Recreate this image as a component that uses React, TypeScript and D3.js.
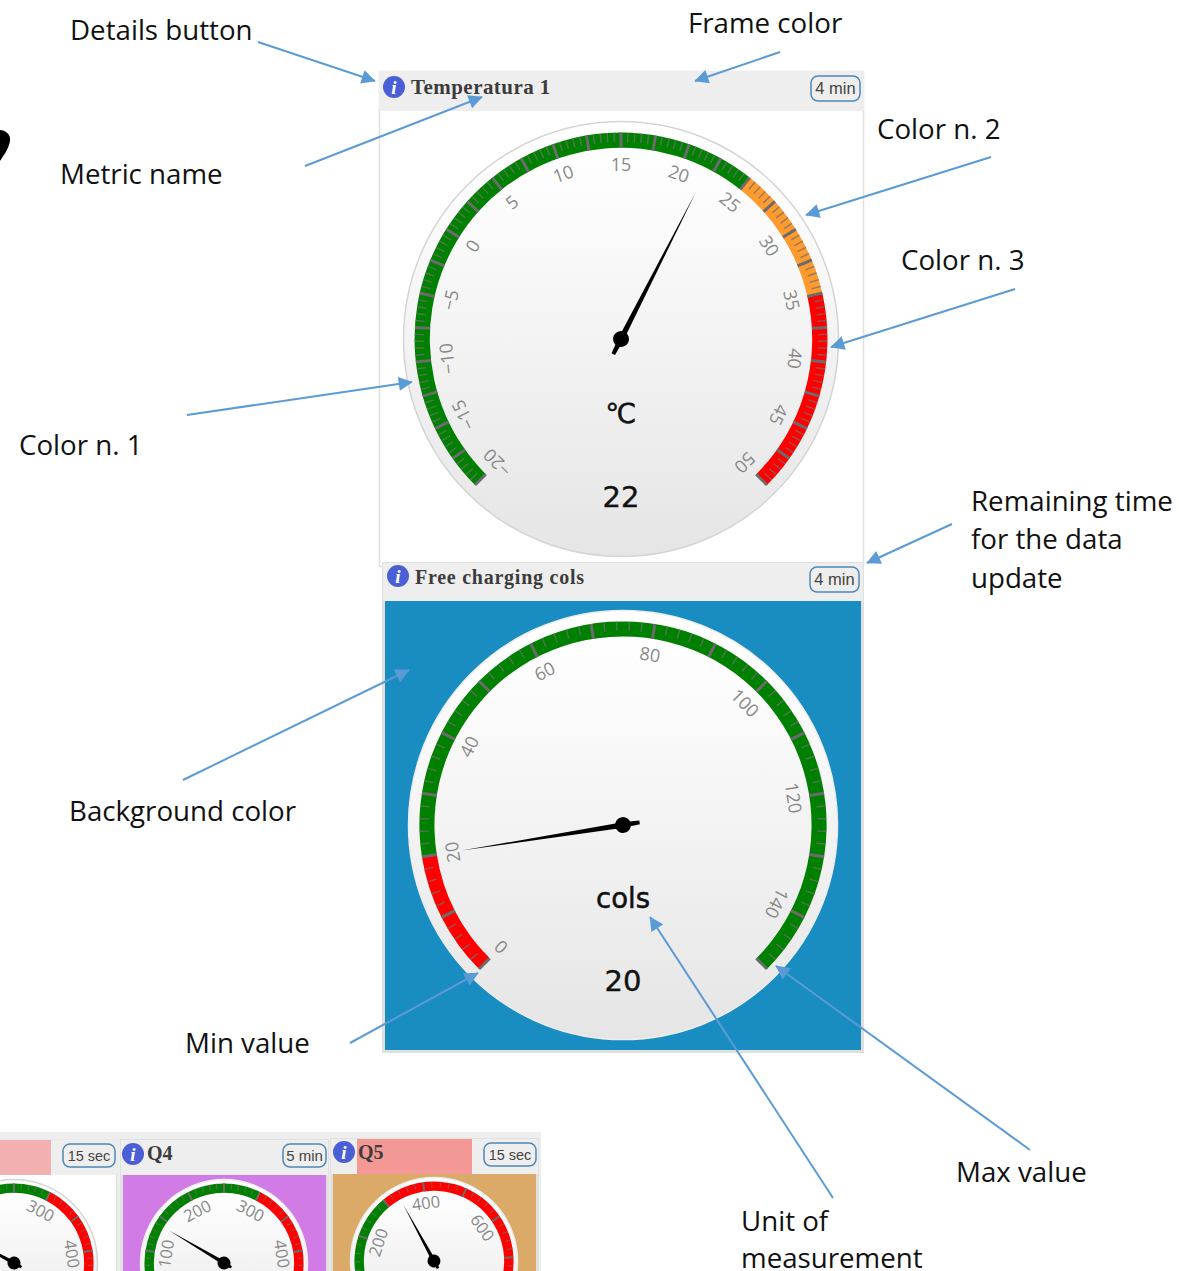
import React from "react";
import * as d3 from "d3";

const W = 1179, H = 1271;
const GREEN = "#008000", ORANGE = "#ff9a2e", RED = "#ff0000";

const gauge1Labels = [-20,-15,-10,-5,0,5,10,15,20,25,30,35,40,45,50];
const gauge1Bands = [{from:-20,to:25,color:GREEN},{from:25,to:35,color:ORANGE},{from:35,to:50,color:RED}];
const gauge2Labels = [0,20,40,60,80,100,120,140];
const gauge2Bands = [{from:0,to:20,color:RED},{from:20,to:150,color:GREEN}];
const q3Labels = [300,400];
const q4Labels = [100,200,300,400];
const q34Bands = [{from:0,to:300,color:GREEN},{from:300,to:500,color:RED}];
const q5Labels = [200,400,600];
const q5Bands = [{from:0,to:300,color:GREEN},{from:300,to:850,color:RED}];

const gauges = [
  {cx:621,cy:339,r:218,min:-20,max:50,value:22,major:2.5,labels:gauge1Labels,bands:gauge1Bands,unit:"℃",show:"22",id:"a",fs:18,edge:"#d4d4d4"},
  {cx:623,cy:825,r:215,min:0,max:150,value:20,major:10,labels:gauge2Labels,bands:gauge2Bands,unit:"cols",show:"20",id:"b",fs:18,edge:"#ededed"},
  {cx:14,cy:1263,r:84,min:0,max:500,value:137,major:50,labels:q3Labels,bands:q34Bands,unit:"",show:"",id:"c",fs:16.5,edge:"#d4d4d4"},
  {cx:224,cy:1263,r:84,min:0,max:500,value:140,major:50,labels:q4Labels,bands:q34Bands,unit:"",show:"",id:"d",fs:16.5,edge:"#ededed"},
  {cx:434,cy:1261,r:84,min:0,max:850,value:335,major:100,labels:q5Labels,bands:q5Bands,unit:"",show:"",id:"e",fs:16.5,edge:"#ededed"},
];

const panels = [
  {x:379,y:71,w:485,h:496,hh:40,body:"#ffffff",title:"Temperatura 1",badge:"4 min",fs:21,bw:49,bx:811,by:76,bh:25,bf:16.5,ix:394,iy:87,tx:411,ty:94,ls:0.45},
  {x:383,y:563,w:480,h:489,hh:38,body:"#198cc2",title:"Free charging cols",badge:"4 min",fs:20,bw:49,bx:810,by:567,bh:25,bf:16.5,ix:398,iy:576,tx:415,ty:584,ls:0.75},
  {x:-90,y:1140,w:207,h:140,hh:35,body:"#ffffff",title:"",badge:"15 sec",fs:21,bw:52,bx:63,by:1144,bh:23,bf:14.5,ix:0,iy:0,tx:0,ty:0,ls:0},
  {x:121,y:1140,w:207,h:140,hh:35,body:"#d17ce6",title:"Q4",badge:"5 min",fs:20,bw:43,bx:283,by:1144,bh:23,bf:15,ix:133,iy:1154,tx:147,ty:1160,ls:0},
  {x:331,y:1139,w:207,h:140,hh:35,body:"#dba968",title:"Q5",badge:"15 sec",fs:20,bw:52,bx:484,by:1143,bh:23,bf:14.5,ix:344,iy:1152,tx:358,ty:1159,ls:0},
];

const labels = [
  {t:"Details button",x:70,y:40},{t:"Frame color",x:688,y:33},{t:"Metric name",x:60,y:184},
  {t:"Color n. 2",x:877,y:139},{t:"Color n. 3",x:901,y:270},{t:"Color n. 1",x:19,y:455},
  {t:"Remaining time",x:971,y:511},{t:"for the data",x:971,y:549},{t:"update",x:971,y:588},
  {t:"Background color",x:69,y:821},{t:"Min value",x:185,y:1053},{t:"Max value",x:956,y:1182},
  {t:"Unit of",x:741,y:1231},{t:"measurement",x:741,y:1268},
];
const arrows = [
  [258,42,375,81],[780,52,695,81],[305,166,482,97],[991,157,806,215],[1015,289,831,347],
  [187,415,412,382],[952,524,867,563],[183,780,409,670],[350,1043,478,973],[833,1198,650,917],[1030,1150,776,966],
];

function Gauge({g}:{g:any}) {
  const k = g.r/218;
  const small = g.r<100;
  const angle = d3.scaleLinear().domain([g.min,g.max]).range([-135,135]);
  const rOut = g.r*0.947, rIn = g.r*(small?0.835:0.877), rLab = g.r*(small?0.68:0.795);
  const arc = d3.arc();
  const rad = (d:number)=>d*Math.PI/180;
  const majors = d3.range(g.min,g.max+g.major/2,g.major);
  const minors:number[] = [];
  majors.slice(0,-1).forEach((m:number)=>{for(let i=1;i<5;i++)minors.push(m+g.major*i/5)});
  const a = angle(g.value);
  const nLen = g.r*0.76, tail = 17*Math.max(k,0.5), base = small?1.9:2.8;
  return (
    <g transform={`translate(${g.cx},${g.cy})`}>
      <circle r={g.r-0.5} fill={`url(#face${g.id})`} stroke={g.edge} strokeWidth={1.5}/>
      {g.bands.map((b:any,i:number)=>(
        <path key={i} fill={b.color} d={arc({innerRadius:rIn,outerRadius:rOut,startAngle:rad(angle(b.from)),endAngle:rad(angle(b.to))}) as string}/>
      ))}
      {minors.map((m,i)=>(
        <line key={i} transform={`rotate(${angle(m)})`} y1={-rOut} y2={-rOut+(rOut-rIn)*0.62} stroke="#6f6f6f" strokeOpacity={0.75} strokeWidth={small?1:1.4}/>
      ))}
      {majors.map((m:number,i:number)=>(
        <line key={i} transform={`rotate(${angle(m)})`} y1={-rOut} y2={-rIn} stroke="#6b6b6b" strokeWidth={small?2:3}/>
      ))}
      {g.labels.map((l:number)=>(
        <text key={l} transform={`rotate(${angle(l)}) translate(0,${-rLab})`} textAnchor="middle" dominantBaseline="middle"
          fontFamily="'Open Sans',sans-serif" fontSize={g.fs} fill="#888888">{String(l).replace("-","−")}</text>
      ))}
      {g.unit && <text y={g.r*0.385} textAnchor="middle" fontFamily="'DejaVu Sans',sans-serif" fontSize={27.5} fill="#111" stroke="#111" strokeWidth={0.5}>{g.unit}</text>}
      {g.show && <text y={g.r*0.77} textAnchor="middle" fontFamily="'DejaVu Sans',sans-serif" fontSize={29} fill="#111" stroke="#111" strokeWidth={0.4}>{g.show}</text>}
      <g transform={`rotate(${a})`}>
        <path d={`M${-base},0 L0,${-nLen} L${base},0 L${base*0.7},${tail} L${-base*0.7},${tail} Z`} fill="#000"/>
        <circle r={Math.max(8*k,6.5)} fill="#000"/>
      </g>
    </g>
  );
}

function Panel({p}:{p:any}) {
  return (
    <g>
      <rect x={p.x+.5} y={p.y+.5} width={p.w-1} height={p.h-1} fill={p.body} stroke="#e0e0e0" strokeWidth={p.body==="#ffffff"?1.5:3}/>
      <rect x={p.x} y={p.y} width={p.w} height={p.hh} fill="#eeeeee" />
      {p.title==="Q5" && <rect x={p.x+26} y={p.y} width={115} height={p.hh} fill="#f49895"/>}
      {p.x<0 && <rect x={p.x} y={p.y} width={141} height={p.hh} fill="#f3b0b0"/>}
      {p.title && <>
        <circle cx={p.ix} cy={p.iy} r={11} fill="#4a5fd6"/>
        <text x={p.ix} y={p.iy+7} textAnchor="middle" fontFamily="'Liberation Serif',serif" fontStyle="italic" fontWeight={700} fontSize={19} fill="#fff">i</text>
        <text x={p.tx} y={p.ty} fontFamily="'Liberation Serif',serif" fontWeight={700} fontSize={p.fs} fill="#3c3c3c" letterSpacing={p.ls}>{p.title}</text>
      </>}
      <rect x={p.bx} y={p.by} width={p.bw} height={p.bh} rx={7} fill="none" stroke="#4d88b8" strokeWidth={1.5}/>
      <text x={p.bx+p.bw/2} y={p.by+p.bh/2+5.5} textAnchor="middle" fontFamily="'Liberation Sans',sans-serif" fontSize={p.bf} fill="#444">{p.badge}</text>
    </g>
  );
}

export default function App() {
  return (
    <svg width={W} height={H} viewBox={`0 0 ${W} ${H}`} style={{position:"absolute",left:0,top:0,display:"block"}}>
      <defs>
        <marker id="ah" viewBox="0 0 10 10" refX="9.5" refY="5" markerWidth="8" markerHeight="7" orient="auto">
          <path d="M0,0 L10,5 L0,10 Z" fill="#5b9bd5"/>
        </marker>
        {gauges.map(g=>(
          <linearGradient key={g.id} id={`face${g.id}`} x1="0" y1="0" x2="0" y2="1">
            <stop offset="0" stopColor="#ffffff"/><stop offset="0.15" stopColor="#fdfdfd"/><stop offset="1" stopColor="#e5e5e5"/>
          </linearGradient>
        ))}
      </defs>
      <rect width={W} height={H} fill="#fff"/>
      <rect x={0} y={1132} width={541} height={139} fill="#eeeeee"/>
      <path d="M0,130 C5,130 11,134 10,141 C9,148 4,155 0,161 Z" fill="#000"/>
      {panels.map((p,i)=><Panel key={i} p={p}/>)}
      {gauges.map(g=><Gauge key={g.id} g={g}/>)}
      {arrows.map((a,i)=>(
        <line key={i} x1={a[0]} y1={a[1]} x2={a[2]} y2={a[3]} stroke="#5b9bd5" strokeWidth={2} markerEnd="url(#ah)"/>
      ))}
      {labels.map((l,i)=>(
        <text key={i} x={l.x} y={l.y} fontFamily="'Open Sans',sans-serif" fontSize={27.7} fill="#111">{l.t}</text>
      ))}
    </svg>
  );
}
